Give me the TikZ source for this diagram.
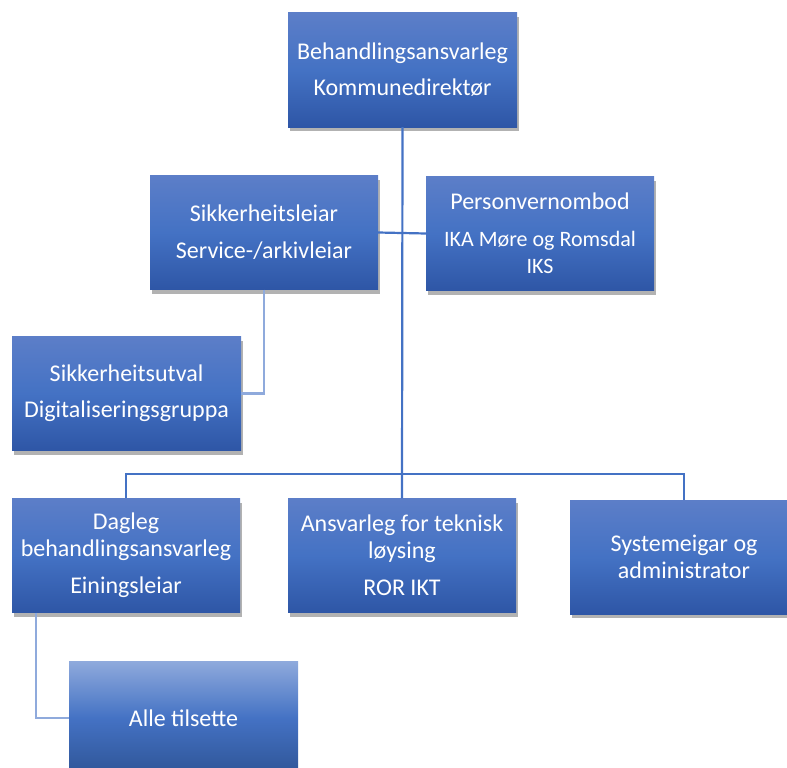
\documentclass[tikz,border=0pt]{standalone}
\usepackage{fontspec}
\setmainfont{Carlito}
\usetikzlibrary{shadows,calc}
\definecolor{btop}{RGB}{92,126,200}
\definecolor{bmid}{RGB}{68,114,196}
\definecolor{bbot}{RGB}{46,86,166}
\definecolor{ltop}{RGB}{143,170,220}
\definecolor{lbot}{RGB}{47,85,151}
\definecolor{conn}{RGB}{68,114,196}
\definecolor{connl}{RGB}{143,170,220}
\tikzset{
  orgbox/.style={rectangle, inner sep=0pt, minimum width=228pt, minimum height=114pt,
    top color=btop, bottom color=bbot, middle color=bmid, text=white, align=center,
    font=\fontsize{24}{27}\selectfont,
    drop shadow={shadow xshift=2pt, shadow yshift=-4pt, opacity=0.3, fill=black}},
  lightbox/.style={rectangle, inner sep=0pt, minimum width=229pt, minimum height=114pt,
    top color=ltop, bottom color=lbot, middle color=bmid, text=white, align=center,
    font=\fontsize{24}{27}\selectfont},
  mainline/.style={draw=conn, line width=2.2pt},
  lightline/.style={draw=connl, line width=2.2pt}
}
\begin{document}
\begin{tikzpicture}[x=1pt,y=-1pt]
\useasboundingbox (0,0) rectangle (787,768);
\begin{scope}
\clip (0,0) rectangle (787,768);
\node[orgbox, minimum width=229pt] (top) at (402.5,70) {Behandlingsansvarleg\\[9pt]Kommunedirektør};
\node[orgbox] (sikk) at (264,232.5) {Sikkerheitsleiar\\[10pt]Service-/arkivleiar};
\node[orgbox] (pvo) at (540,233.5) {Personvernombod\\[10pt]{\fontsize{22}{25}\selectfont IKA Møre og Romsdal}\\{\fontsize{22}{25}\selectfont IKS}};
\node[orgbox, minimum width=229pt] (utval) at (126.5,393.5) {Sikkerheitsutval\\[9pt]Digitaliseringsgruppa};
\node[orgbox] (dag) at (126,555.5) {Dagleg\\behandlingsansvarleg\\[10pt]Einingsleiar};
\node[orgbox] (ans) at (402,555.5) {Ansvarleg for teknisk\\løysing\\[10pt]ROR IKT};
\node[orgbox] (sys) at (684,557) {Systemeigar og\\administrator};
\node[lightbox] (alle) at (183.5,718) {Alle tilsette};
\coordinate (bar) at (402,474);
\draw[mainline] (top.south) -- (ans.north);
\draw[mainline] (dag.north) -- (dag.north |- bar) -- (sys.north |- bar) -- (sys.north);
\draw[mainline] (sikk.east) -- (pvo.west);
\draw[lightline] (sikk.south) |- (utval.east);
\coordinate (dagdrop) at ($(dag.south west)+(24,0)$);
\draw[lightline] (dagdrop) |- (alle.west);
\end{scope}
\end{tikzpicture}
\end{document}
